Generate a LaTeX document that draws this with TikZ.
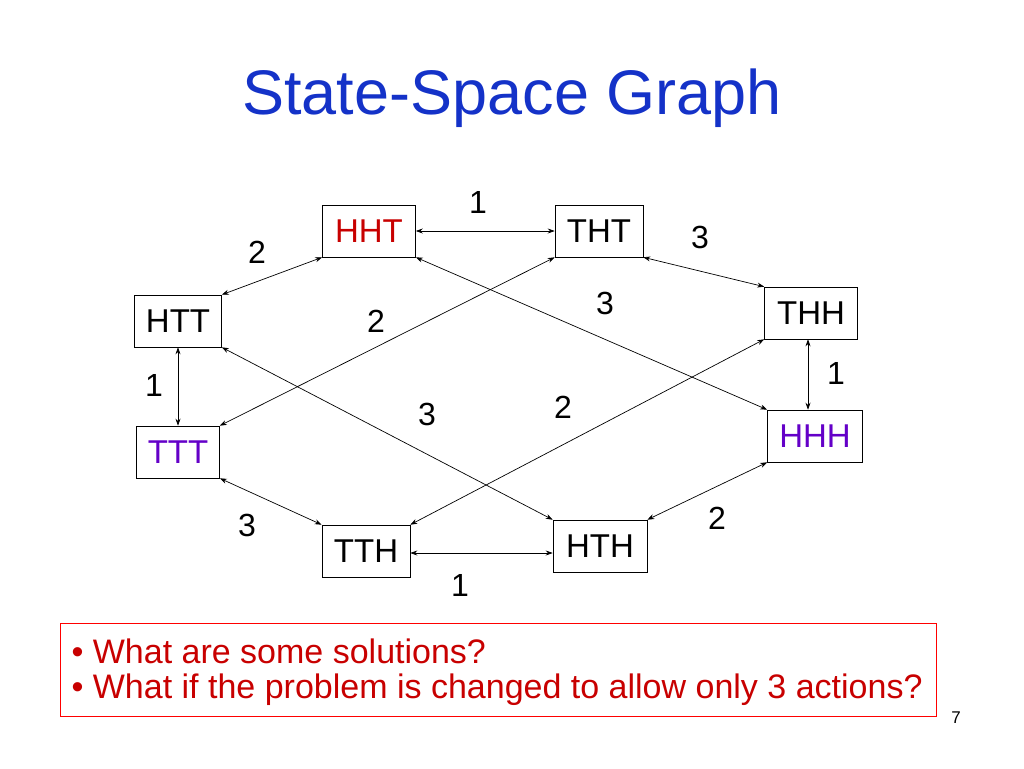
\documentclass[tikz,border=0pt]{standalone}
\usepackage{fontspec}
\setmainfont{Liberation Sans}
\usetikzlibrary{arrows.meta}
\definecolor{ttl}{RGB}{20,50,200}
\definecolor{rd}{RGB}{200,0,0}
\definecolor{pu}{RGB}{100,0,200}
\begin{document}
\begin{tikzpicture}[x=1pt,y=-1pt,
  st/.style={draw,fill=white,line width=0.6pt,inner sep=0pt,minimum height=52pt,font=\fontsize{33}{36}\selectfont},
  ed/.style={{Stealth[length=7pt,width=5pt]}-{Stealth[length=7pt,width=5pt]},line width=0.7pt},
  lb/.style={font=\fontsize{32}{34}\selectfont}]
\useasboundingbox (0,0) rectangle (1024,768);
\node[text=ttl,font=\fontsize{63}{68}\selectfont] (title) at (512,98) {State-Space Graph};
\node[st,minimum width=93pt,text=rd] (HHT) at (369,231) {HHT};
\node[st,minimum width=88pt] (THT) at (599,231) {THT};
\node[st,minimum width=87pt] (HTT) at (178,321) {HTT};
\node[st,minimum width=93pt] (THH) at (811,313) {THH};
\node[st,minimum width=83pt,text=pu] (TTT) at (178,452) {TTT};
\node[st,minimum width=95pt,text=pu] (HHH) at (815,436) {HHH};
\node[st,minimum width=88pt] (TTH) at (366,551) {TTH};
\node[st,minimum width=94pt] (HTH) at (600,546) {HTH};
\draw[ed] (HHT.east) -- (THT.west);
\draw[ed] (HHT.south west) -- (HTT.north east);
\draw[ed] (THT.south east) -- (THH.north west);
\draw[ed] (HTT.south) -- (TTT.north);
\draw[ed] (THH.south -| 808,0) -- (HHH.north -| 808,0);
\draw[ed] (TTT.south east) -- (TTH.north west);
\draw[ed] (TTH.east |- 0,553) -- (HTH.west |- 0,553);
\draw[ed] (HTH.north east) -- (HHH.south west);
\draw[ed] (HHT.south east) -- (HHH.north west);
\draw[ed] (THT.south west) -- (TTT.north east);
\draw[ed] (HTT.south east) -- (HTH.north west);
\draw[ed] (THH.south west) -- (TTH.north east);
\node[lb] (l1) at (478,202) {1};
\node[lb] (l2) at (257,252) {2};
\node[lb] (l3) at (700,237) {3};
\node[lb] (l4) at (605,303) {3};
\node[lb] (l5) at (376,321) {2};
\node[lb] (l6) at (154,385) {1};
\node[lb] (l7) at (836,373) {1};
\node[lb] (l8) at (563,407) {2};
\node[lb] (l9) at (427,414) {3};
\node[lb] (l10) at (247,525) {3};
\node[lb] (l11) at (717,518) {2};
\node[lb] (l12) at (460,585) {1};
\draw[red,line width=0.8pt] (60,623) rectangle (936,716);
\node[anchor=west,text=rd,font=\fontsize{34}{37}\selectfont] (b1) at (68,651) {• What are some solutions?};
\node[anchor=west,text=rd,font=\fontsize{34}{37}\selectfont] (b2) at (68,690) {• What if the problem is changed to allow only 3 actions?};
\node[font=\fontsize{17}{20}\selectfont] (pg) at (956,718) {7};
\end{tikzpicture}
\end{document}
